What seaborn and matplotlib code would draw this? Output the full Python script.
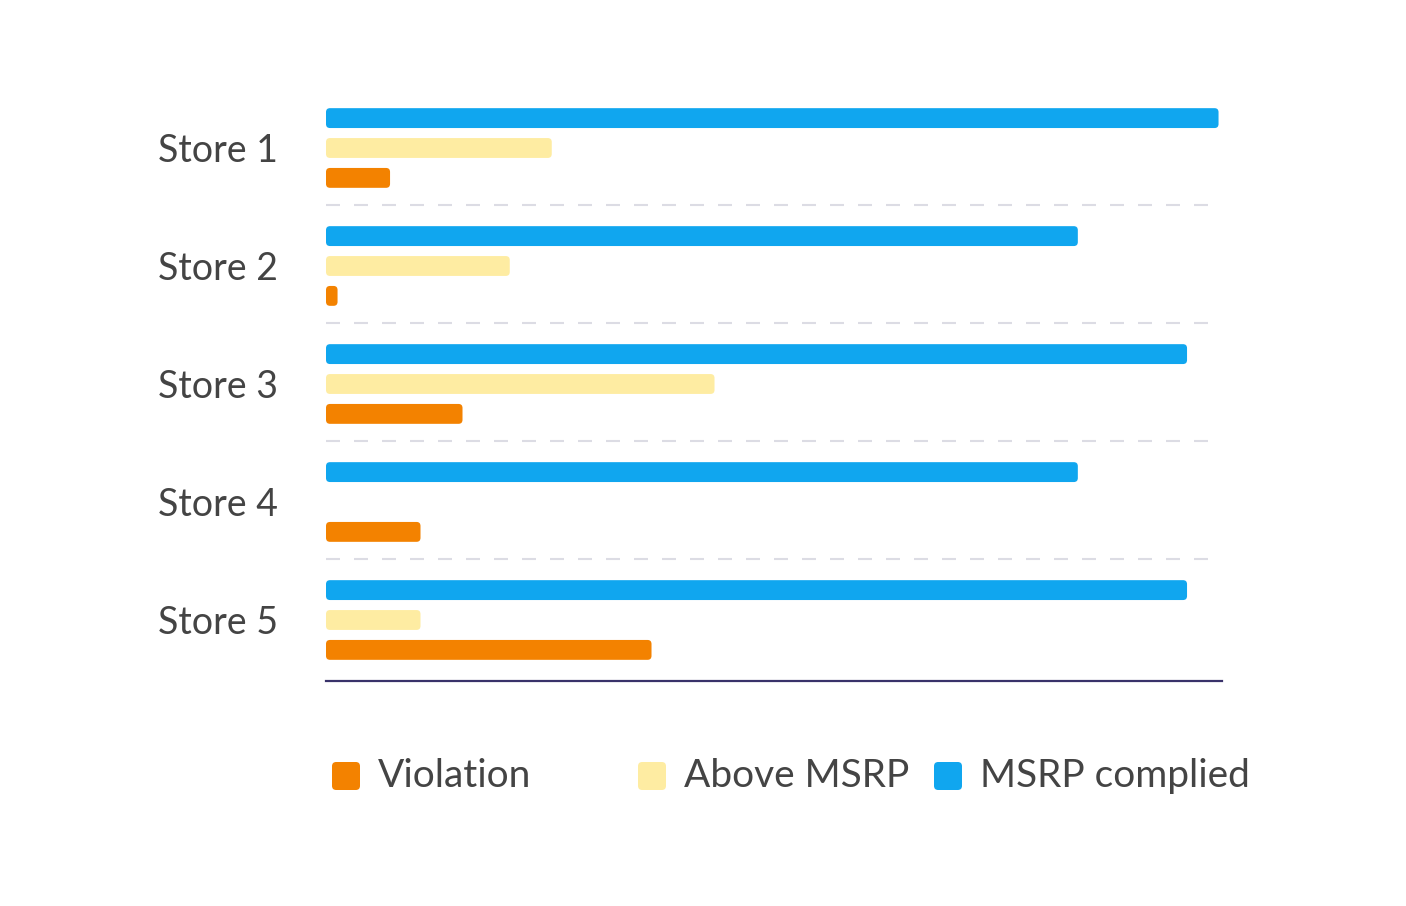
import matplotlib
matplotlib.use("Agg")
import matplotlib.pyplot as plt
from matplotlib.patches import FancyBboxPatch
import seaborn as sns
import pandas as pd

stores = ["Store 1", "Store 2", "Store 3", "Store 4", "Store 5"]
msrp_complied = [85, 71.6, 82, 71.6, 82]
above_msrp = [21.5, 17.5, 37, 0, 9]
violation = [6.1, 1.1, 13, 9, 31]
series = ["MSRP complied", "Above MSRP", "Violation"]
legend_order = ["Violation", "Above MSRP", "MSRP complied"]
colors = {"MSRP complied": "#10A6EF", "Above MSRP": "#FEECA2", "Violation": "#F38200"}
xmax = 85.33

rows = []
for i, s in enumerate(stores):
    rows.append((s, "MSRP complied", msrp_complied[i]))
    rows.append((s, "Above MSRP", above_msrp[i]))
    rows.append((s, "Violation", violation[i]))
df = pd.DataFrame(rows, columns=["store", "series", "value"])

sns.set_theme(style="white")
plt.rcParams["font.family"] = ["Lato", "DejaVu Sans"]

W, H = 1406, 906
fig = plt.figure(figsize=(W / 100, H / 100), dpi=100)
ax = fig.add_axes([326 / W, 1 - 681 / H, (1222 - 326) / W, (681 - 91) / H])

sns.barplot(data=df, y="store", x="value", hue="series", hue_order=series,
            order=stores, palette=colors, orient="h", width=0.76, gap=0.335,
            legend=False, ax=ax, errorbar=None, saturation=1)

ax.set_xlim(0, xmax)
ax.set_ylim(4.517, -0.483)

# rounded bars
x_per_px = xmax / 896
y_per_px = 5 / 590
aspect = y_per_px / x_per_px
r = 4 * x_per_px
for p in list(ax.patches):
    x, y = p.get_x(), p.get_y()
    w, h = p.get_width(), p.get_height()
    fc = p.get_facecolor()
    p.remove()
    if w <= 0:
        continue
    fb = FancyBboxPatch((x, y), w, h,
                        boxstyle=f"round,pad=0,rounding_size={min(r, w / 2)}",
                        mutation_aspect=aspect, facecolor=fc, edgecolor="none", zorder=3)
    ax.add_patch(fb)

# dashed separators
lw = 1.5
d = 14 * 0.72 / lw
for yb in [0.48, 1.48, 2.48, 3.48]:
    ax.axhline(yb, color="#DCDCE4", lw=lw, linestyle=(0, (d, d)), zorder=1)

for side in ["top", "right", "left"]:
    ax.spines[side].set_visible(False)
ax.spines["bottom"].set_color("#39326A")
ax.spines["bottom"].set_linewidth(1.6)
ax.set_xticks([])
ax.set_xlabel("")
ax.set_ylabel("")
ax.tick_params(axis="y", length=0, pad=168 * 0.72, labelsize=27, labelcolor="#444444")
for lbl in ax.get_yticklabels():
    lbl.set_horizontalalignment("left")

# legend
lx = {"Violation": 332, "Above MSRP": 638, "MSRP complied": 934}
for name in legend_order:
    x0 = lx[name]
    sq = FancyBboxPatch((x0 / W, 1 - 790 / H), 28 / W, 28 / H,
                        boxstyle="round,pad=0,rounding_size=0.003",
                        mutation_aspect=W / H,
                        transform=fig.transFigure, facecolor=colors[name],
                        edgecolor="none")
    fig.patches.append(sq)
    fig.text((x0 + 46) / W, 1 - 776 / H, name, fontsize=28, color="#444444",
             va="center", ha="left")

fig.savefig("out.png", dpi=100, facecolor="white")
